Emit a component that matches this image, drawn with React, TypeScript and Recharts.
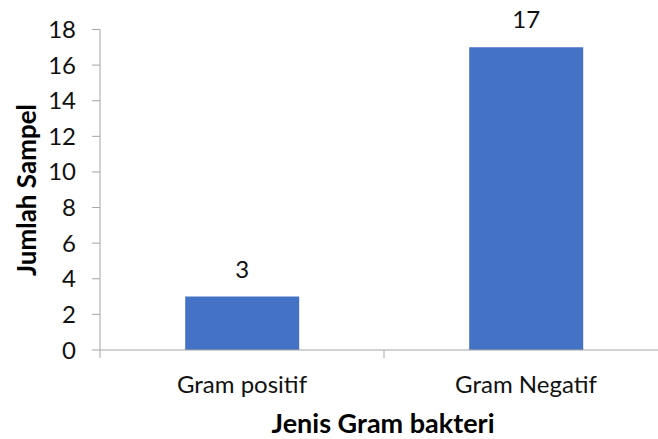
import { BarChart, Bar, XAxis, YAxis, LabelList, Label } from 'recharts';

const categories = ['Gram positif', 'Gram Negatif'];
const jumlahSampel = [3, 17];
const yTicks = [0, 2, 4, 6, 8, 10, 12, 14, 16, 18];

const data = categories.map((name, i) => ({ name, value: jumlahSampel[i] }));

const FONT = 'Lato, "Open Sans", sans-serif';
const TEXT = '#111';
const AXIS = '#a5a5a5';

// layout: chart is wider than the frame so the last category is cut like the source
const CHART_W = 700;
const CHART_H = 439;
const Y_AXIS_W = 100;
const RIGHT = 32;
const BAND = (CHART_W - Y_AXIS_W - RIGHT) / categories.length;
const PLOT_BOTTOM = 350;

function CategoryTick(props: any) {
  const { x, payload, index } = props;
  const left = x - BAND / 2;
  const right = x + BAND / 2;
  return (
    <g>
      <line x1={left} x2={left} y1={PLOT_BOTTOM} y2={PLOT_BOTTOM + 8} stroke={AXIS} />
      {index === categories.length - 1 && (
        <line x1={right} x2={right} y1={PLOT_BOTTOM} y2={PLOT_BOTTOM + 8} stroke={AXIS} />
      )}
      <text x={x} y={PLOT_BOTTOM + 43} textAnchor="middle" fill={TEXT} fontSize={24} fontFamily={FONT}>
        {payload.value}
      </text>
    </g>
  );
}

export default function App() {
  return (
    <div
      style={{
        position: 'absolute',
        left: 0,
        top: 0,
        width: 658,
        height: 439,
        overflow: 'hidden',
        background: '#fff',
      }}
    >
      <BarChart
        width={CHART_W}
        height={CHART_H}
        data={data}
        margin={{ top: 29.5, right: RIGHT, left: 0, bottom: 0 }}
        barCategoryGap="30%"
      >
        <XAxis
          dataKey="name"
          height={CHART_H - PLOT_BOTTOM}
          stroke={AXIS}
          tickLine={false}
          tick={<CategoryTick />}
          interval={0}
        >
          <Label
            content={() => (
              <text x={383} y={433} textAnchor="middle" fill="#000" fontSize={27} fontWeight={700} fontFamily={FONT}>
                Jenis Gram bakteri
              </text>
            )}
          />
        </XAxis>
        <YAxis
          width={Y_AXIS_W}
          domain={[0, 18]}
          ticks={yTicks}
          interval={0}
          stroke={AXIS}
          tickSize={8}
          tickMargin={16}
          tick={{ fill: TEXT, fontSize: 24, fontFamily: FONT }}
        >
          <Label
            content={() => (
              <text
                x={26}
                y={190}
                transform="rotate(-90 26 190)"
                textAnchor="middle"
                dominantBaseline="central"
                fill="#000"
                fontSize={26}
                fontWeight={700}
                fontFamily={FONT}
              >
                Jumlah Sampel
              </text>
            )}
          />
        </YAxis>
        <Bar dataKey="value" fill="#4472C4" isAnimationActive={false}>
          <LabelList
            dataKey="value"
            position="top"
            offset={19}
            fill={TEXT}
            fontSize={24}
            fontFamily={FONT}
          />
        </Bar>
      </BarChart>
    </div>
  );
}
